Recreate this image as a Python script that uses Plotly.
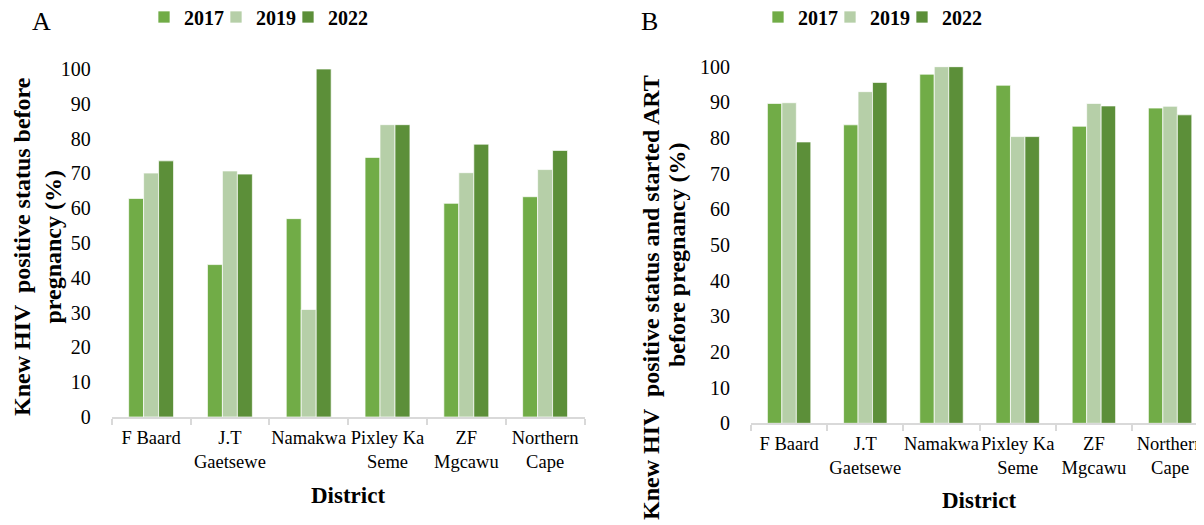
import plotly.graph_objects as go

districts = ["F Baard", "J.T<br>Gaetsewe", "Namakwa", "Pixley Ka<br>Seme", "ZF<br>Mgcawu", "Northern<br>Cape"]
years = ["2017", "2019", "2022"]

# Panel A: Knew HIV positive status before pregnancy (%)
a_2017 = [62.8, 43.8, 57.0, 74.6, 61.4, 63.3]
a_2019 = [70.1, 70.7, 30.9, 84.0, 70.2, 71.1]
a_2022 = [73.6, 69.8, 100.0, 84.0, 78.4, 76.6]

# Panel B: Knew HIV positive status and started ART before pregnancy (%)
b_2017 = [89.7, 83.7, 97.9, 94.8, 83.3, 88.4]
b_2019 = [89.9, 93.0, 100.0, 80.4, 89.7, 88.9]
b_2022 = [78.9, 95.6, 100.0, 80.4, 89.0, 86.5]

colors = ["#71AC47", "#B6CFA8", "#5C8F39"]
entry_widths = [27, 27, 50]
FONT = "Liberation Serif"
W, H = 1204, 525
OFF = 8  # page body margin

fig = go.Figure()
for name, vals, col, ew in zip(years, [a_2017, a_2019, a_2022], colors, entry_widths):
    fig.add_trace(go.Bar(x=districts, y=vals, name=name, legendwidth=ew,
                         marker=dict(color=col, line=dict(color="rgba(255,255,255,0.7)", width=1)),
                         xaxis="x", yaxis="y", legend="legend"))
for name, vals, col, ew in zip(years, [b_2017, b_2019, b_2022], colors, entry_widths):
    fig.add_trace(go.Bar(x=districts, y=vals, name=name, legendwidth=ew,
                         marker=dict(color=col, line=dict(color="rgba(255,255,255,0.7)", width=1)),
                         xaxis="x2", yaxis="y2", legend="legend2"))

def px_x(p):
    return (p - OFF) / W

def px_y(p):
    return 1 - (p - OFF) / H

xcommon = dict(type="category", showline=True, linecolor="#D9D9D9", linewidth=1.5,
               ticks="outside", tickson="boundaries", tickcolor="#D9D9D9", ticklen=6, tickwidth=1.5,
               tickangle=0, ticklabelstandoff=3,
               tickfont=dict(family=FONT, size=18.5, color="black"), showgrid=False, zeroline=False,
               fixedrange=True)
ycommon = dict(range=[0, 100], dtick=10, showgrid=False, zeroline=False, showline=False,
               tickfont=dict(family=FONT, size=20, color="black"), ticks="", ticklabelstandoff=20)

legcommon = dict(orientation="h", yanchor="middle", y=px_y(17), xanchor="left",
                 font=dict(family=FONT, size=20, color="black", weight="bold"), itemwidth=30,
                 bgcolor="rgba(0,0,0,0)", traceorder="normal")

fig.update_layout(
    width=W, height=H,
    margin=dict(l=0, r=0, t=0, b=0, autoexpand=False),
    paper_bgcolor="white", plot_bgcolor="white",
    barmode="group", bargap=0.43, bargroupgap=0,
    showlegend=True,
    xaxis=dict(domain=[px_x(111.7), px_x(584.5)], anchor="y", range=[-0.5, 5.5], **xcommon),
    yaxis=dict(domain=[px_y(417), px_y(69)], anchor="x", **ycommon),
    xaxis2=dict(domain=[px_x(751), 1.0], anchor="y2", range=[-0.5, 5.55], **xcommon),
    yaxis2=dict(domain=[px_y(423.3), px_y(66.7)], anchor="x2", **ycommon),
    legend=dict(x=px_x(144), **legcommon),
    legend2=dict(x=px_x(758), **legcommon),
)

ann = [
    dict(text="A", x=px_x(41), y=px_y(21), font=dict(family=FONT, size=26, color="black")),
    dict(text="B", x=px_x(649), y=px_y(21), font=dict(family=FONT, size=26, color="black")),
    dict(text="<b>District</b>", x=px_x(348), y=px_y(495), font=dict(family=FONT, size=23, color="black")),
    dict(text="<b>District</b>", x=px_x(979), y=px_y(500), font=dict(family=FONT, size=23, color="black")),
    dict(text="<b>Knew HIV  positive status before<br>pregnancy (%)</b>", x=px_x(37), y=px_y(247), textangle=-90,
         font=dict(family=FONT, size=24, color="black")),
    dict(text="<b>Knew HIV  positive status and started ART</b>", x=px_x(651), y=px_y(298), textangle=-90,
         font=dict(family=FONT, size=24, color="black")),
    dict(text="<b>before pregnancy (%)</b>", x=px_x(677), y=px_y(255), textangle=-90,
         font=dict(family=FONT, size=24, color="black")),
]
for a in ann:
    a.update(xref="paper", yref="paper", showarrow=False, xanchor="center", yanchor="middle")
fig.update_layout(annotations=ann)

fig.write_html("out.html")
